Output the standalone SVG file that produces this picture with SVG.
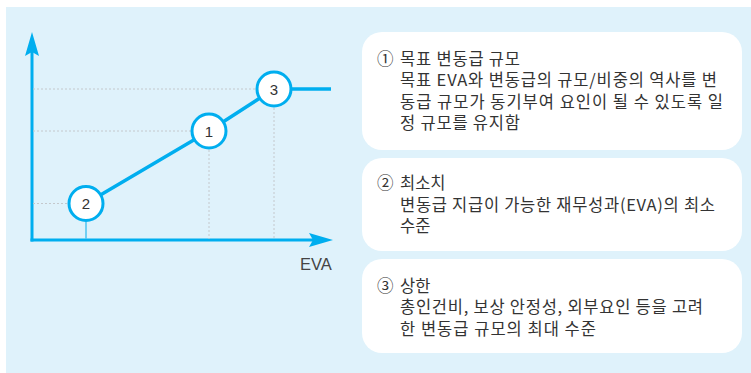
<svg xmlns="http://www.w3.org/2000/svg" width="751" height="373" viewBox="0 0 751 373">
<style>
.bg{fill:#dff2fb}
.box{fill:#ffffff}
.axis{stroke:#00aeef;stroke-width:3;fill:none}
.ah{fill:#00aeef}
.curve{stroke:#00aeef;stroke-width:3.5;fill:none;stroke-linejoin:round}
.dash{stroke:#c4c8cc;stroke-width:1;stroke-dasharray:2 2;fill:none}
.node circle{fill:#ffffff;stroke:#00aeef;stroke-width:3}
.node text{font-family:"Liberation Sans",Arial,sans-serif;font-size:15px;fill:#333;text-anchor:middle}
.t{font-family:"Noto Sans CJK KR","Noto Sans",sans-serif;font-size:16.5px;fill:#333}
.lbl{font-family:"Liberation Sans",Arial,sans-serif;font-size:16.5px;fill:#444}
</style>
<rect class="bg" x="6" y="7" width="745" height="366"/>
<g id="chart">
<line class="axis" x1="32" y1="241.5" x2="32" y2="50"/>
<path class="ah" d="M32,32 L39,56 L32,52 L25,56 Z"/>
<line class="axis" x1="30.5" y1="240" x2="318" y2="240"/>
<path class="ah" d="M333,240 L309,247 L313,240 L309,233 Z"/>
<text class="lbl" x="300" y="270">EVA</text>
</g>
<g id="connectors">
<line class="dash" x1="33" y1="89" x2="256" y2="89"/>
<line class="dash" x1="33" y1="131" x2="191" y2="131"/>
<line class="dash" x1="33" y1="203.5" x2="68" y2="203.5"/>
<line class="dash" x1="209" y1="150" x2="209" y2="239"/>
<line class="dash" x1="274" y1="108" x2="274" y2="239"/>
<line x1="86" y1="222" x2="86" y2="239" stroke="#4cc3f0" stroke-width="1.5"/>
<polyline class="curve" points="86,203.5 209,131 274,89 331,89"/>
</g>
<g id="node2" class="node"><circle cx="86" cy="203.5" r="17"/><text x="86" y="209">2</text></g>
<g id="node1" class="node"><circle cx="209" cy="131" r="17"/><text x="209" y="136.5">1</text></g>
<g id="node3" class="node"><circle cx="274" cy="89" r="17"/><text x="274" y="94.5">3</text></g>
<g id="box1">
<rect class="box" x="362" y="32" width="380" height="118" rx="20"/>
<text class="t"><tspan x="377" y="64.5">① </tspan><tspan x="400" y="64.5" textLength="120" lengthAdjust="spacing">목표 변동급 규모</tspan><tspan x="400" y="86" textLength="317" lengthAdjust="spacing">목표 EVA와 변동급의 규모/비중의 역사를 변</tspan><tspan x="400" y="107.5" textLength="323" lengthAdjust="spacing">동급 규모가 동기부여 요인이 될 수 있도록 일</tspan><tspan x="400" y="129" textLength="120" lengthAdjust="spacing">정 규모를 유지함</tspan></text>
</g>
<g id="box2">
<rect class="box" x="362" y="158" width="380" height="93" rx="20"/>
<text class="t"><tspan x="377" y="189">② </tspan><tspan x="400" y="189">최소치</tspan><tspan x="400" y="210.5" textLength="315" lengthAdjust="spacing">변동급 지급이 가능한 재무성과(EVA)의 최소</tspan><tspan x="400" y="232">수준</tspan></text>
</g>
<g id="box3">
<rect class="box" x="362" y="259" width="380" height="94" rx="20"/>
<text class="t"><tspan x="377" y="291.5">③ </tspan><tspan x="400" y="291.5">상한</tspan><tspan x="400" y="313" textLength="303" lengthAdjust="spacing">총인건비, 보상 안정성, 외부요인 등을 고려</tspan><tspan x="400" y="334.5" textLength="196" lengthAdjust="spacing">한 변동급 규모의 최대 수준</tspan></text>
</g>
</svg>
